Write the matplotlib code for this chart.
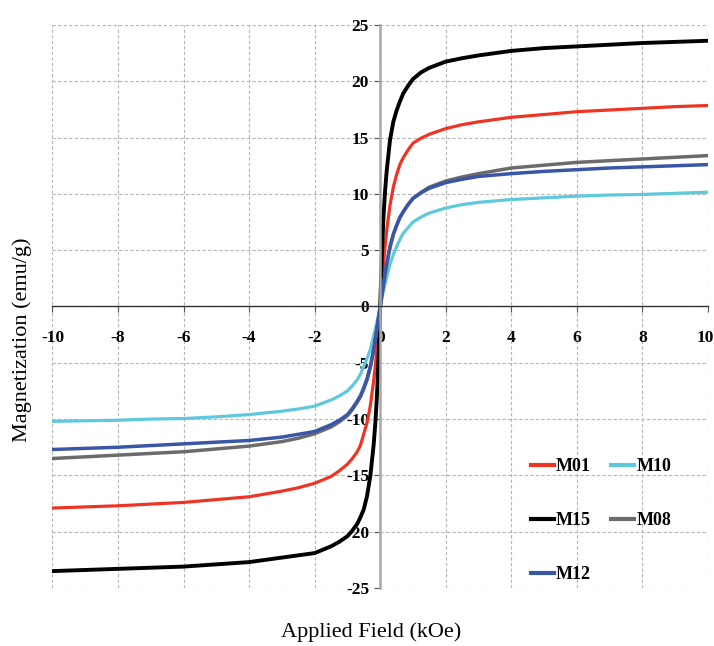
import matplotlib.pyplot as plt
from matplotlib.transforms import ScaledTranslation

plt.rcParams['axes.unicode_minus'] = False

# field values (kOe), denser near zero where the loops are steep
field = [-10, -9, -8, -7, -6, -5, -4, -3, -2.5, -2, -1.5, -1.25, -1, -0.85, -0.7, -0.6,
         -0.5, -0.4, -0.3, -0.2, -0.15, -0.1, -0.05,
         0, 0.05, 0.1, 0.15, 0.2, 0.3, 0.4, 0.5, 0.6, 0.7, 0.85, 1, 1.25, 1.5,
         2, 2.5, 3, 4, 5, 6, 7, 8, 9, 10]

m01 = [-17.9, -17.8, -17.7, -17.55, -17.4, -17.15, -16.9, -16.4, -16.1, -15.7, -15.1, -14.6,
       -14.0, -13.5, -12.9, -12.3, -11.3, -10.3, -8.8, -6.6, -5.3, -3.7, -1.9,
       0, 2.0, 3.8, 5.4, 6.8, 9.0, 10.6, 11.7, 12.6, 13.2, 13.9, 14.5, 14.95, 15.3,
       15.8, 16.15, 16.4, 16.8, 17.05, 17.3, 17.45, 17.6, 17.75, 17.85]
m10 = [-10.2, -10.15, -10.1, -10.0, -9.95, -9.8, -9.6, -9.3, -9.1, -8.85, -8.3, -7.95,
       -7.5, -7.05, -6.5, -6.0, -5.3, -4.6, -3.8, -2.6, -2.0, -1.4, -0.7,
       0, 0.7, 1.4, 2.0, 2.6, 3.8, 4.6, 5.3, 5.95, 6.5, 7.0, 7.5, 7.95, 8.3,
       8.75, 9.05, 9.25, 9.5, 9.65, 9.8, 9.9, 9.95, 10.05, 10.15]
m15 = [-23.5, -23.4, -23.3, -23.2, -23.1, -22.9, -22.7, -22.3, -22.1, -21.9, -21.3, -20.9,
       -20.4, -19.9, -19.3, -18.7, -18.0, -16.8, -15.0, -12.3, -10.4, -8.0, -4.5,
       0, 4.5, 8.0, 10.3, 12.1, 14.8, 16.4, 17.4, 18.2, 18.9, 19.6, 20.2, 20.8, 21.2,
       21.75, 22.05, 22.3, 22.7, 22.95, 23.1, 23.25, 23.4, 23.5, 23.6]
m08 = [-13.5, -13.35, -13.2, -13.05, -12.9, -12.65, -12.4, -12.0, -11.7, -11.3, -10.7, -10.25,
       -9.7, -9.15, -8.5, -8.0, -7.3, -6.5, -5.4, -3.9, -2.9, -2.0, -1.0,
       0, 1.0, 2.0, 2.9, 3.8, 5.3, 6.4, 7.2, 7.9, 8.4, 9.05, 9.6, 10.15, 10.6,
       11.15, 11.5, 11.8, 12.3, 12.55, 12.8, 12.95, 13.1, 13.25, 13.4]
m12 = [-12.7, -12.6, -12.5, -12.35, -12.2, -12.05, -11.9, -11.6, -11.35, -11.1, -10.5, -10.1,
       -9.6, -9.05, -8.4, -7.9, -7.2, -6.4, -5.3, -3.8, -2.9, -2.0, -1.0,
       0, 1.0, 2.0, 2.9, 3.8, 5.3, 6.4, 7.2, 7.9, 8.4, 9.05, 9.6, 10.1, 10.5,
       11.0, 11.3, 11.55, 11.8, 12.0, 12.15, 12.3, 12.4, 12.5, 12.6]

x_ticks = [-10, -8, -6, -4, -2, 0, 2, 4, 6, 8, 10]
y_ticks = [-25, -20, -15, -10, -5, 0, 5, 10, 15, 20, 25]

serif = ['Liberation Serif', 'DejaVu Serif']

fig = plt.figure(figsize=(7.14, 6.46), dpi=100)
ax = fig.add_axes([0.0735, 0.0898, 0.918, 0.8715])

l01, = ax.plot(field, m01, color='#ee3524', lw=2.3, label='M01')
l10, = ax.plot(field, m10, color='#5ec9dc', lw=2.3, label='M10')
l15, = ax.plot(field, m15, color='black', lw=2.8, label='M15')
l08, = ax.plot(field, m08, color='#6b6b6b', lw=2.5, label='M08')
l12, = ax.plot(field, m12, color='#3a56a6', lw=2.5, label='M12')

ax.set_xlim(-10, 10)
ax.set_ylim(-25, 25)
ax.set_xticks(x_ticks)
ax.set_yticks(y_ticks)

ax.grid(True, color='#b5b5b5', linestyle=(0, (3, 2)), linewidth=0.8)
ax.set_axisbelow(True)

ax.spines['left'].set_position(('data', 0))
ax.spines['bottom'].set_position(('data', 0))
ax.spines['left'].set_color('#a8a8a8')
ax.spines['left'].set_linewidth(1.8)
ax.spines['bottom'].set_color('#333333')
ax.spines['bottom'].set_linewidth(1.0)
ax.spines['top'].set_visible(False)
ax.spines['right'].set_visible(False)

ax.tick_params(axis='x', direction='out', length=4, width=0.8, color='#555555', pad=13)
ax.tick_params(axis='y', direction='out', length=4, width=0.8, color='#555555', pad=4)
for lab in ax.get_xticklabels() + ax.get_yticklabels():
    lab.set_family(serif)
    lab.set_fontweight('bold')
    lab.set_fontsize(12.5)

# nudge the last x label so it stays inside the figure
last = ax.get_xticklabels()[-1]
last.set_transform(last.get_transform() + ScaledTranslation(-3 / 100, 0, fig.dpi_scale_trans))

fig.text(0.031, 0.474, 'Magnetization (emu/g)', rotation=90, ha='center', va='center',
         family=serif, fontsize=16)
fig.text(0.52, 0.022, 'Applied Field (kOe)', ha='center', va='center',
         family=serif, fontsize=16)

leg = ax.legend(handles=[l01, l15, l12, l10, l08], ncol=2, frameon=False,
                loc='lower left', bbox_to_anchor=(0.705, -0.02),
                handlelength=1.3, handletextpad=0.1, labelspacing=2.05,
                columnspacing=1.1, prop={'family': serif, 'weight': 'bold', 'size': 13})
for h in leg.legend_handles:
    h.set_linewidth(3)

fig.savefig('out.png', dpi=100)
